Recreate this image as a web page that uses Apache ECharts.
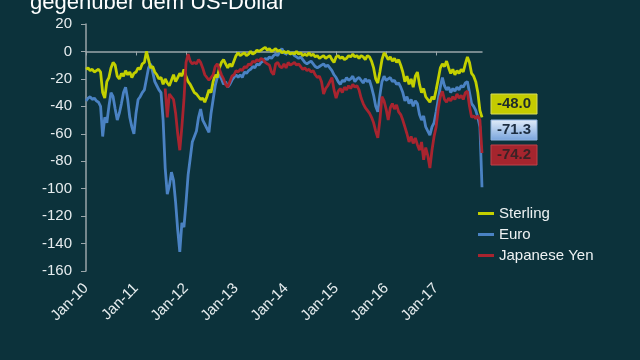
<!DOCTYPE html>
<html>
<head>
<meta charset="utf-8">
<script src="https://cdn.jsdelivr.net/npm/echarts@6/dist/echarts.min.js"></script>
<style>
html,body{margin:0;padding:0;background:#0c323b;}
#chart{width:640px;height:360px;}
</style>
</head>
<body>
<div id="chart"></div>
<script>
// Half-monthly observations, Jan 2010 .. mid Nov 2017
const years = [2010, 2011, 2012, 2013, 2014, 2015, 2016, 2017];
const yearLabels = ['Jan-10', 'Jan-11', 'Jan-12', 'Jan-13', 'Jan-14', 'Jan-15', 'Jan-16', 'Jan-17'];
const seriesNames = ['Sterling', 'Euro', 'Japanese Yen'];
const endLabels = ['-48.0', '-71.3', '-74.2'];
const titleText = 'gegenüber dem US-Dollar';

const sterling = [
 -13,-12,-14,-13,-15,-14,-13,-15,-30,-34,
 -22,-19,-12,-8,-10,-18,-20,-16,-18,-14,
 -17,-15,-19,-16,-15,-12,-13,-9,-8,0,
 -6,-12,-11,-15,-17,-20,-19,-24,-20,-23,
 -25,-21,-17,-22,-19,-16,-18,-13,-18,-22,
 -24,-27,-30,-31,-33,-35,-34,-37,-33,-28,
 -30,-22,-17,-19,-12,-8,-6,-9,-12,-9,
 -11,-7,-3,-1,-3,-2,-1,-3,-2,0,
 -2,-1,1,0,1,2,3,1,2,0,
 1,2,0,1,-1,0,-1,0,-2,-1,
 -2,0,-2,-1,-3,-2,-3,-1,-3,-2,
 -4,-3,-5,-4,-3,-5,-4,-3,-6,-8,
 -4,-3,-5,-4,-6,-5,-3,-4,-2,-4,
 -3,-5,-3,-4,-6,-3,-4,-7,-12,-20,
 -23,-15,-6,-1,-3,-6,-4,-7,-5,-8,
 -6,-10,-15,-22,-18,-24,-20,-26,-18,-15,
 -24,-30,-27,-33,-35,-37,-33,-35,-28,-20,
 -12,-9,-11,-7,-12,-16,-13,-17,-14,-16,
 -13,-15,-9,-4,-8,-16,-18,-22,-30,-43,
 -48
];

const euro = [
 -36,-34,-33,-35,-34,-36,-37,-40,-62,-48,
 -52,-40,-30,-33,-42,-50,-45,-38,-30,-26,
 -35,-48,-55,-60,-45,-35,-33,-30,-28,-20,
 -12,-9,-15,-22,-25,-28,-30,-50,-85,-104,
 -98,-88,-94,-110,-130,-146,-125,-128,-110,-90,
 -78,-66,-62,-58,-48,-42,-50,-53,-56,-59,
 -45,-35,-25,-19,-17,-20,-24,-22,-26,-24,
 -21,-19,-17,-19,-17,-19,-15,-16,-14,-13,
 -11,-12,-9,-10,-8,-7,-5,-6,-4,-5,
 -3,-2,-3,0,2,-1,-2,0,-2,-1,
 -3,-4,-5,-4,-6,-8,-9,-8,-7,-9,
 -11,-12,-11,-10,-9,-11,-10,-12,-14,-17,
 -19,-22,-24,-21,-22,-19,-21,-20,-18,-22,
 -20,-19,-21,-23,-20,-22,-21,-26,-32,-40,
 -44,-32,-22,-18,-21,-20,-19,-22,-21,-24,
 -23,-26,-30,-36,-33,-38,-35,-40,-36,-38,
 -46,-50,-47,-55,-58,-61,-55,-52,-44,-35,
 -26,-19,-25,-28,-26,-30,-27,-29,-26,-28,
 -25,-26,-23,-22,-30,-38,-40,-43,-48,-55,
 -99
];

const yen = [
 null,null,null,null,null,null,null,null,null,null,
 null,null,null,null,null,null,null,null,null,null,
 null,null,null,null,null,null,null,null,null,null,
 null,null,null,null,null,null,null,null,-27,-48,
 -31,-33,-35,-45,-60,-72,-55,-35,-8,-2,
 -7,-9,-8,-9,-6,-8,-12,-17,-19,-21,
 -19,-17,-11,-9,-13,-17,-20,-24,-26,-22,
 -18,-17,-14,-15,-13,-14,-11,-12,-9,-10,
 -7,-8,-6,-7,-5,-6,-8,-9,-10,-15,
 -17,-9,-8,-11,-12,-9,-12,-8,-10,-9,
 -8,-10,-9,-11,-13,-12,-14,-13,-15,-14,
 -17,-19,-18,-22,-31,-27,-25,-22,-19,-28,
 -34,-29,-27,-30,-26,-28,-25,-27,-24,-26,
 -25,-28,-34,-38,-41,-43,-45,-48,-52,-58,
 -63,-50,-33,-36,-42,-50,-41,-38,-42,-39,
 -44,-46,-50,-55,-60,-66,-62,-67,-63,-68,
 -72,-66,-79,-70,-76,-85,-72,-62,-55,-42,
 -33,-29,-35,-37,-34,-36,-33,-35,-31,-34,
 -32,-35,-30,-29,-40,-48,-47,-49,-47,-50,
 -74
];

// category labels (half-month dates)
const dates = [];
for (const y of years) {
  for (let m = 1; m <= 12; m++) {
    const mm = (m < 10 ? '0' : '') + m;
    dates.push(y + '-' + mm + '-01');
    dates.push(y + '-' + mm + '-16');
  }
}
dates.length = sterling.length;

const colors = ['#c3d000', '#4a82c3', '#a8242f'];

const chart = echarts.init(document.getElementById('chart'));
const labelFont = 'Arial, "Liberation Sans", sans-serif';

chart.setOption({
  backgroundColor: '#0c323b',
  animation: false,
  textStyle: { fontFamily: labelFont },
  grid: { left: 86, top: 24, right: 158, bottom: 89, containLabel: false },
  xAxis: [
    {
      type: 'category', data: dates, boundaryGap: false,
      axisLine: { onZero: true, lineStyle: { color: '#9aa6aa', width: 1.5 } },
      axisTick: { show: true, length: 4, interval: (i) => i % 24 === 0, lineStyle: { color: '#9aa6aa' } },
      axisLabel: { show: false }, splitLine: { show: false }
    },
    {
      type: 'category', data: dates, boundaryGap: false, position: 'bottom',
      axisLine: { show: false, onZero: false }, axisTick: { show: false },
      axisLabel: {
        interval: (i) => i % 24 === 0,
        formatter: (v, i) => yearLabels[Math.floor(i / 24)] || '',
        rotate: 45, color: '#e6ecee', fontSize: 15, margin: 15
      },
      splitLine: { show: false }
    }
  ],
  yAxis: {
    type: 'value', min: -160, max: 20, interval: 20,
    axisLine: { show: true, lineStyle: { color: '#9aa6aa', width: 1.5 } },
    axisTick: { show: true, length: 5, lineStyle: { color: '#9aa6aa' } },
    axisLabel: { color: '#e6ecee', fontSize: 15, margin: 14 },
    splitLine: { show: false }
  },
  legend: {
    orient: 'vertical', left: 478, top: 206, itemGap: 6, padding: 0,
    icon: 'rect', itemWidth: 16, itemHeight: 3,
    textStyle: { color: '#eef2f3', fontSize: 15 },
    data: seriesNames
  },
  series: [
    { name: seriesNames[0], type: 'line', data: sterling, showSymbol: false, lineStyle: { width: 2.8, color: colors[0] }, itemStyle: { color: colors[0] }, z: 3 },
    { name: seriesNames[1], type: 'line', data: euro, showSymbol: false, lineStyle: { width: 2.8, color: colors[1] }, itemStyle: { color: colors[1] }, z: 2 },
    { name: seriesNames[2], type: 'line', data: yen, showSymbol: false, connectNulls: false, lineStyle: { width: 2.8, color: colors[2] }, itemStyle: { color: colors[2] }, z: 4 }
  ],
  graphic: [
    { type: 'text', left: 30, top: -8, style: { text: titleText, fill: '#ffffff', font: '22px Arial, "Liberation Sans", sans-serif' } },
    { type: 'rect', shape: { x: 491, y: 94, width: 46, height: 20 }, style: { fill: '#c4cb00', stroke: '#d8dc5a', lineWidth: 1 } },
    { type: 'text', x: 514, y: 104, style: { text: endLabels[0], fill: '#1d2a2c', font: 'bold 15px Arial, sans-serif', align: 'center', verticalAlign: 'middle' } },
    { type: 'rect', shape: { x: 491, y: 120, width: 46, height: 20 }, style: {
      fill: new echarts.graphic.LinearGradient(0, 0, 0, 1, [{ offset: 0, color: '#e2edf9' }, { offset: 1, color: '#77a3dc' }]),
      stroke: '#8fb3e0', lineWidth: 1 } },
    { type: 'text', x: 514, y: 130, style: { text: endLabels[1], fill: '#1c2d40', font: 'bold 15px Arial, sans-serif', align: 'center', verticalAlign: 'middle' } },
    { type: 'rect', shape: { x: 491, y: 145, width: 46, height: 20 }, style: { fill: '#a5252e', stroke: '#c04048', lineWidth: 1 } },
    { type: 'text', x: 514, y: 155, style: { text: endLabels[2], fill: '#3a2326', font: 'bold 15px Arial, sans-serif', align: 'center', verticalAlign: 'middle' } }
  ]
});
</script>
</body>
</html>
